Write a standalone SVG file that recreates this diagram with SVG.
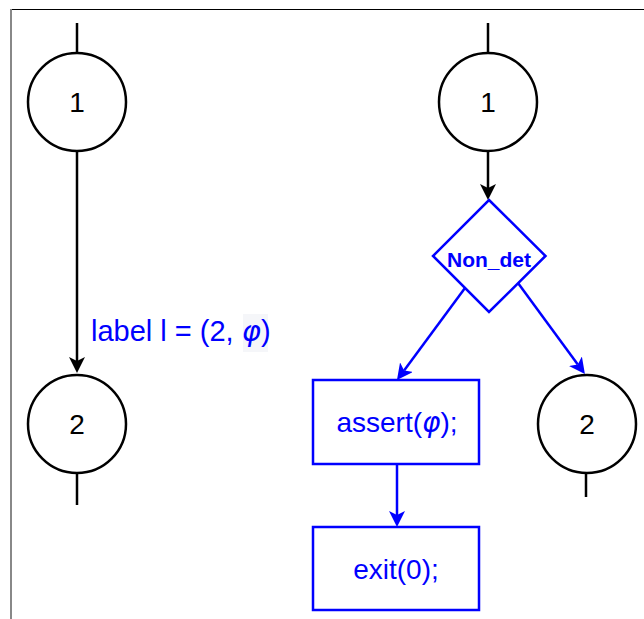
<svg xmlns="http://www.w3.org/2000/svg" width="644" height="619" viewBox="0 0 644 619">
<style>
.node{fill:#fff;stroke:#000;stroke-width:2.5}
.bnode{fill:#fff;stroke:#0000ff;stroke-width:2.5}
.t{font-family:"Liberation Sans",Arial,sans-serif;font-size:28px;text-anchor:middle}
.blk{fill:#000}
.blu{fill:#0000ff}
.phi{font-family:"DejaVu Sans",sans-serif;font-style:italic}
.k{stroke:#000;stroke-width:2.5;fill:none}
.b{stroke:#0000ff;stroke-width:2.5;fill:none}
</style>
<defs>
<marker id="ak" viewBox="0 0 16 16" refX="4" refY="8" markerWidth="16" markerHeight="16" markerUnits="userSpaceOnUse" orient="auto">
<path d="M0,0 L16,8 L0,16 L4,8 Z" fill="#000"/>
</marker>
<marker id="ab" viewBox="0 0 16 16" refX="4" refY="8" markerWidth="16" markerHeight="16" markerUnits="userSpaceOnUse" orient="auto">
<path d="M0,0 L16,8 L0,16 L4,8 Z" fill="#0000ff"/>
</marker>
</defs>
<rect width="644" height="619" fill="#fff"/>
<g id="frame">
<line x1="10" y1="9.5" x2="644" y2="9.5" stroke="#000" stroke-width="1"/>
<line x1="11" y1="9" x2="11" y2="619" stroke="#888" stroke-width="2"/>
</g>
<g id="connectors">
<line class="k" x1="77" y1="23" x2="77" y2="53"/>
<line class="k" x1="77" y1="152" x2="77" y2="361" marker-end="url(#ak)"/>
<line class="k" x1="77" y1="474" x2="77" y2="505"/>
<line class="k" x1="488" y1="23" x2="488" y2="53"/>
<line class="k" x1="488" y1="152" x2="488" y2="188" marker-end="url(#ak)"/>
<line class="b" x1="465" y1="288" x2="404.1" y2="370.4" marker-end="url(#ab)"/>
<line class="b" x1="518" y1="283" x2="577.8" y2="364.4" marker-end="url(#ab)"/>
<line class="b" x1="397" y1="464" x2="397" y2="515" marker-end="url(#ab)"/>
<line class="k" x1="586" y1="474" x2="586" y2="497"/>
</g>
<g id="edge-label">
<rect x="243" y="314" width="25" height="38" fill="#f5f6f9"/>
<text x="91" y="341" font-family="Liberation Sans,Arial,sans-serif" font-size="29" fill="#0000ff">label l = (2, <tspan class="phi">φ</tspan>)</text>
</g>
<g id="n1-left">
<circle class="node" cx="77" cy="102" r="49"/>
<text class="t blk" x="77" y="112">1</text>
</g>
<g id="n2-left">
<circle class="node" cx="77" cy="424" r="49"/>
<text class="t blk" x="77" y="434">2</text>
</g>
<g id="n1-right">
<circle class="node" cx="488" cy="102" r="49"/>
<text class="t blk" x="488" y="112">1</text>
</g>
<g id="nondet">
<polygon class="bnode" points="489,200 545.5,256 489,312 433,256"/>
<text x="489" y="267" font-family="Liberation Sans,Arial,sans-serif" font-size="21" font-weight="bold" text-anchor="middle" fill="#0000ff">Non_det</text>
</g>
<g id="assert">
<rect class="bnode" x="313" y="380" width="166" height="84"/>
<text class="t blu" x="397" y="432">assert(<tspan class="phi">φ</tspan>);</text>
</g>
<g id="n2-right">
<circle class="node" cx="587" cy="424" r="49"/>
<text class="t blk" x="587" y="434">2</text>
</g>
<g id="exit">
<rect class="bnode" x="313" y="527" width="166" height="83"/>
<text class="t blu" x="396" y="579">exit(0);</text>
</g>
</svg>
